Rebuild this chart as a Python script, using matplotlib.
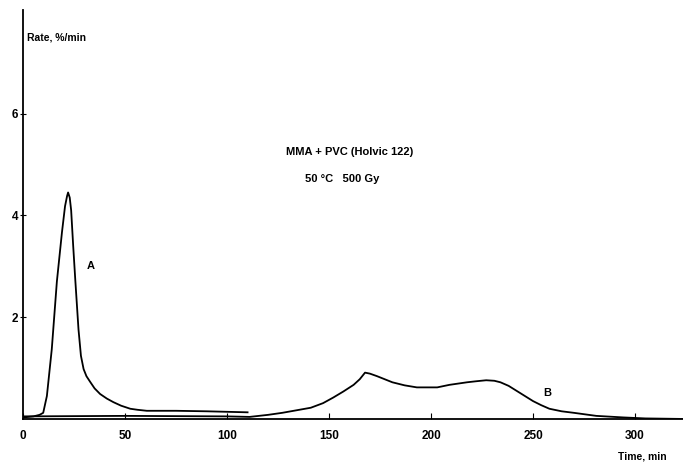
import matplotlib
import matplotlib.pyplot as plt

matplotlib.rcParams["font.family"] = ["Liberation Sans", "DejaVu Sans"]

# curve A: early peak
time_a = [0, 5, 8, 9.8, 11.6, 14, 16.5, 19, 20.5, 21.5, 22, 22.8, 23.5, 24.5,
          25.5, 27.1, 28.3, 29.6, 31, 32.8, 35, 37.7, 41, 44.2, 48, 52.5, 56,
          60.6, 75, 90, 100, 110]
rate_a = [0.03, 0.05, 0.08, 0.12, 0.45, 1.37, 2.7, 3.67, 4.18, 4.38, 4.45,
          4.35, 4.1, 3.4, 2.75, 1.76, 1.24, 0.98, 0.84, 0.73, 0.6, 0.49, 0.4,
          0.33, 0.26, 0.2, 0.18, 0.16, 0.16, 0.15, 0.14, 0.13]

# curve B: broad late hump
time_b = [0, 50, 100, 111, 120, 127, 134, 141, 147, 152, 157, 162, 165, 167.6,
          170, 173.5, 181, 187, 193, 203, 209, 217.6, 222, 227, 231, 234, 238,
          242, 246, 250, 254, 258, 264, 270, 281, 294, 305, 323]
rate_b = [0.05, 0.06, 0.05, 0.04, 0.08, 0.12, 0.17, 0.22, 0.31, 0.42, 0.54,
          0.67, 0.78, 0.91, 0.89, 0.84, 0.72, 0.66, 0.62, 0.62, 0.67, 0.72,
          0.74, 0.76, 0.75, 0.72, 0.65, 0.55, 0.45, 0.35, 0.27, 0.2, 0.15,
          0.12, 0.06, 0.03, 0.01, 0.0]

x_ticks = [0, 50, 100, 150, 200, 250, 300]
y_ticks = [2, 4, 6]

fig = plt.figure(figsize=(6.83, 4.66), dpi=100)
ax = fig.add_axes([0.034, 0.101, 0.966, 0.878])

ax.plot(time_a, rate_a, color="black", lw=1.3)
ax.plot(time_b, rate_b, color="black", lw=1.3)

ax.set_xlim(0, 323.5)
ax.set_ylim(0, 8.04)
ax.set_xticks(x_ticks)
ax.set_yticks(y_ticks)
ax.tick_params(axis="x", direction="in", length=4, labelsize=8.5, pad=8)
ax.tick_params(axis="y", direction="inout", length=5, labelsize=8.5, pad=1)
for lab in ax.get_xticklabels() + ax.get_yticklabels():
    lab.set_fontweight("bold")

ax.spines["top"].set_visible(False)
ax.spines["right"].set_visible(False)
ax.spines["left"].set_linewidth(1.3)
ax.spines["bottom"].set_linewidth(1.3)

ax.text(2, 7.5, "Rate, %/min", fontsize=7.5, fontweight="bold", va="center")
fig.text(0.905, 0.013, "Time, min", fontsize=7.5, fontweight="bold")

ax.text(31, 3.0, "A", fontsize=8, fontweight="bold", va="center")
ax.text(255, 0.5, "B", fontsize=8, fontweight="bold", va="center")
ax.text(129, 5.24, "MMA + PVC (Holvic 122)", fontsize=8, fontweight="bold",
        va="center")
ax.text(138, 4.72, "50 \u00b0C   500 Gy", fontsize=8, fontweight="bold",
        va="center")

fig.savefig("out.png", dpi=100)
